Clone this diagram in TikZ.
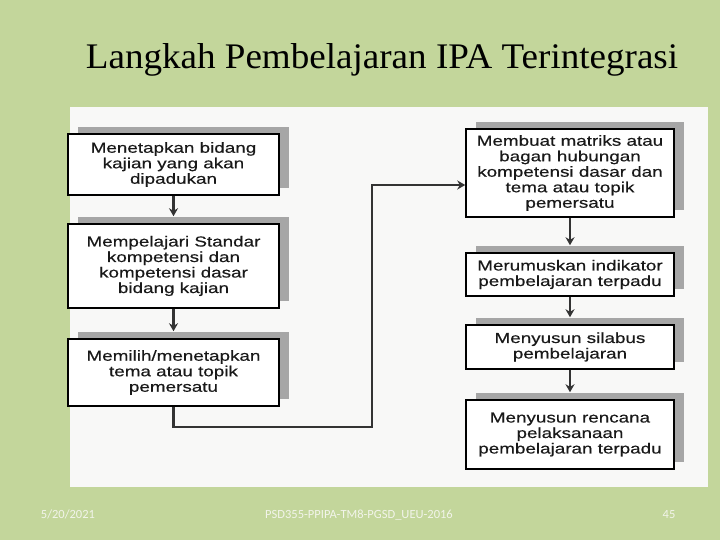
\documentclass[tikz,border=0pt]{standalone}
\usepackage{fontspec}
\setmainfont{Liberation Serif}
\newfontfamily\titlefont[FakeStretch=1.03]{Liberation Serif}
\newfontfamily\boxfont[FakeStretch=1.3, FakeBold=0.4]{Liberation Sans}
\newfontfamily\footfont{Carlito}
\usepackage{xcolor}
\usetikzlibrary{arrows.meta, positioning, shadows}
\definecolor{slidegreen}{RGB}{195,214,155}
\definecolor{panelwhite}{RGB}{248,248,247}
\definecolor{shadowgray}{RGB}{166,166,166}
\definecolor{footgray}{RGB}{242,244,234}

\begin{document}
\begin{tikzpicture}[auto, x=1pt, y=1pt, >={Stealth[length=8pt,width=9pt]}]

		% Define block styles
		\tikzstyle{stepbox} = [rectangle, draw, line width=1.5pt, fill=white, align=center, inner sep=2pt, text=black!90, font=\boxfont\fontsize{14.5}{15.5}\selectfont, drop shadow={shadow xshift=10pt, shadow yshift=7pt, fill=shadowgray, opacity=1}]
		\tikzstyle{leftbox} = [stepbox, minimum width=211pt]
		\tikzstyle{rightbox} = [stepbox, minimum width=208pt]
		\tikzstyle{link} = [line width=2.2pt, draw=black!80]
		\tikzstyle{foot} = [anchor=base, text=footgray, font=\footfont\fontsize{12.5}{14}\selectfont]

		% Background
		\fill[slidegreen] (0,0) rectangle (720,540);
		\useasboundingbox (0,0) rectangle (720,540);
		\fill[panelwhite] (70,53) rectangle (708,433);

		% Nodes
		\node[leftbox, minimum height=61pt] (fix) at (173.5,375.5) {Menetapkan bidang\\kajian yang akan\\dipadukan};
		\node[leftbox, minimum height=84pt, below of=fix, node distance=101.5pt] (study) {Mempelajari Standar\\kompetensi dan\\kompetensi dasar\\bidang kajian};
		\node[leftbox, minimum height=67pt, below of=study, node distance=106.5pt] (choose) {Memilih/menetapkan\\tema atau topik\\pemersatu};

		\node[rightbox, minimum height=88pt] (mapping) at (570,367) {Membuat matriks atau\\bagan hubungan\\kompetensi dasar dan\\tema atau topik\\pemersatu};
		\node[rightbox, minimum height=43pt, below of=mapping, node distance=101.5pt] (indicator) {Merumuskan indikator\\pembelajaran terpadu};
		\node[rightbox, minimum height=44pt, below of=indicator, node distance=72.5pt] (syllabus) {Menyusun silabus\\pembelajaran};
		\node[rightbox, minimum height=69pt, below of=syllabus, node distance=87.5pt] (plan) {Menyusun rencana\\pelaksanaan\\pembelajaran terpadu};

		\coordinate (turn) at (372,113);

		% Arrows
		\draw[link, ->, shorten >=7pt] (fix) -- (study);
		\draw[link, ->, shorten >=7pt] (study) -- (choose);
		\draw[link, ->] (choose.south) |- (turn) |- ([yshift=-12pt]mapping.west);
		\draw[link, ->, shorten >=7pt] (mapping) -- (indicator);
		\draw[link, ->, shorten >=7pt] (indicator) -- (syllabus);
		\draw[link, ->, shorten >=7pt] (syllabus) -- (plan);

		% Labels
		\node[anchor=base, font=\titlefont\fontsize{36}{40}\selectfont] (title) at (382,471) {Langkah Pembelajaran IPA Terintegrasi};
		\node[foot] (date) at (68,21) {5/20/2021};
		\node[foot] (code) at (359,21) {PSD355-PPIPA-TM8-PGSD\_UEU-2016};
		\node[foot] (page) at (669,21) {45};

	\end{tikzpicture}
\end{document}
